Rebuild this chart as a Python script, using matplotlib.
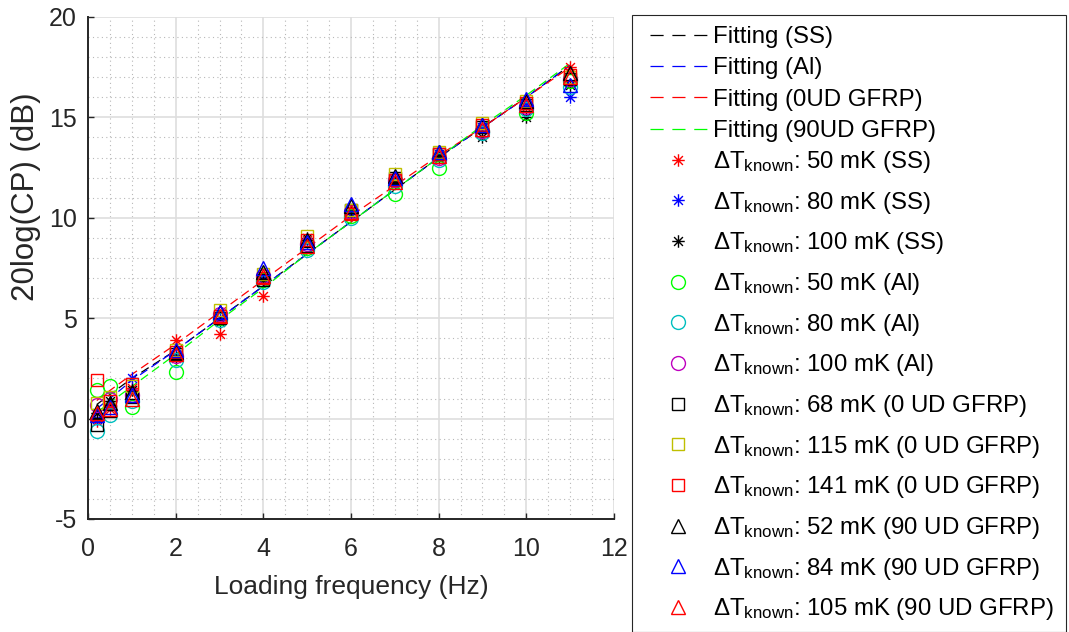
import matplotlib
matplotlib.use("Agg")
import matplotlib.pyplot as plt
from matplotlib.ticker import MultipleLocator
from matplotlib.path import Path
from matplotlib.lines import Line2D
from matplotlib.patches import Rectangle

plt.rcParams['font.family'] = ['Liberation Sans', 'DejaVu Sans']
plt.rcParams['mathtext.fontset'] = 'custom'
plt.rcParams['mathtext.rm'] = 'Liberation Sans'
plt.rcParams['mathtext.it'] = 'Liberation Sans:italic'
plt.rcParams['mathtext.bf'] = 'Liberation Sans:bold'
plt.rcParams['axes.unicode_minus'] = False

# ---------------- data ----------------
freq = [0.2, 0.5, 1, 2, 3, 4, 5, 6, 7, 8, 9, 10, 11]

fit_labels = ["Fitting (SS)", "Fitting (Al)", "Fitting (0UD GFRP)", "Fitting (90UD GFRP)"]
fit_ss   = [0.7, 1.2, 2.0, 3.4, 5.0, 6.6, 8.2, 9.8, 11.4, 13.0, 14.5, 16.0, 17.6]
fit_al   = [0.5, 1.0, 1.9, 3.4, 5.0, 6.6, 8.2, 9.8, 11.4, 13.0, 14.5, 16.0, 17.6]
fit_0ud  = [0.9, 1.4, 2.2, 3.7, 5.3, 6.9, 8.5, 10.1, 11.6, 13.1, 14.5, 16.0, 17.5]
fit_90ud = [0.3, 0.8, 1.6, 3.2, 4.9, 6.5, 8.2, 9.8, 11.4, 13.0, 14.6, 16.1, 17.7]

ss_50   = [-0.1, 0.5, 1.5, 3.9, 4.2, 6.1, 8.9, 10.1, 12.0, 13.0, 14.4, 15.5, 17.5]
ss_80   = [0.0, 0.7, 2.0, 3.1, 5.0, 7.0, 8.8, 10.2, 11.9, 13.2, 14.5, 15.7, 16.0]
ss_100  = [0.3, 0.9, 1.4, 3.0, 4.8, 6.9, 9.0, 10.4, 11.8, 13.1, 14.0, 15.0, 16.6]
al_50   = [1.4, 1.6, 0.6, 2.3, 5.0, 6.9, 8.5, 10.1, 11.2, 12.5, 14.3, 15.2, 16.8]
al_80   = [-0.6, 0.2, 0.9, 2.9, 4.9, 6.8, 8.4, 10.0, 11.6, 12.9, 14.2, 15.4, 16.5]
al_100  = [0.7, 1.0, 1.2, 3.1, 5.2, 7.1, 8.7, 10.3, 11.9, 13.0, 14.3, 15.5, 16.9]
ud0_68  = [-0.3, 0.4, 1.1, 3.2, 5.0, 6.9, 8.6, 10.4, 12.0, 13.2, 14.5, 15.6, 16.9]
ud0_115 = [0.8, 1.1, 1.6, 3.4, 5.4, 7.2, 9.1, 10.4, 12.2, 13.3, 14.7, 15.8, 17.0]
ud0_141 = [1.9, 0.9, 1.7, 3.3, 5.1, 7.0, 8.9, 10.2, 11.9, 13.2, 14.6, 15.7, 17.1]
ud90_52 = [0.4, 0.8, 1.3, 3.3, 5.3, 7.3, 8.9, 10.6, 12.1, 13.3, 14.6, 15.8, 17.2]
ud90_84 = [0.2, 0.6, 1.2, 3.4, 5.3, 7.5, 8.8, 10.7, 12.0, 13.3, 14.6, 15.9, 16.6]
ud90_105 = [0.3, 0.5, 1.0, 3.2, 5.1, 7.1, 8.6, 10.3, 11.8, 13.1, 14.4, 15.6, 17.0]

series_labels = [
    "50 mK (SS)", "80 mK (SS)", "100 mK (SS)",
    "50 mK (Al)", "80 mK (Al)", "100 mK (Al)",
    "68 mK (0 UD GFRP)", "115 mK (0 UD GFRP)", "141 mK (0 UD GFRP)",
    "52 mK (90 UD GFRP)", "84 mK (90 UD GFRP)", "105 mK (90 UD GFRP)",
]
series_values = [ss_50, ss_80, ss_100, al_50, al_80, al_100,
                 ud0_68, ud0_115, ud0_141, ud90_52, ud90_84, ud90_105]

# ---------------- styles ----------------
asterisk = Path([(-1, 0), (1, 0), (0, -1), (0, 1),
                 (-0.707, -0.707), (0.707, 0.707), (-0.707, 0.707), (0.707, -0.707)],
                [Path.MOVETO, Path.LINETO] * 4)
fit_colors = ['k', 'b', 'r', '#00ff00']
series_markers = [asterisk] * 3 + ['o'] * 3 + ['s'] * 3 + ['^'] * 3
series_colors = ['r', 'b', 'k', '#00ff00', 'c', 'm', 'k', 'y', 'r', 'k', 'b', 'r']
series_ms = [9, 9, 9, 10, 10, 10, 8, 8, 8, 10, 10, 10]

fig = plt.figure(figsize=(10.69, 6.32), dpi=100)
ax = fig.add_axes([88/1069, 1-519/632, (614-88)/1069, (519-17)/632])

fits = [fit_ss, fit_al, fit_0ud, fit_90ud]
fit_handles = []
for vals, c, lab in zip(fits, fit_colors, fit_labels):
    ax.plot(freq, vals, linestyle=(0, (7, 4)), color=c, lw=0.9, zorder=3)
    fit_handles.append(Line2D([], [], linestyle=(0, (10.5, 7)), color=c, lw=0.9, label=lab))

ser_handles = []
for vals, m, c, ms, lab in zip(series_values, series_markers, series_colors, series_ms, series_labels):
    h, = ax.plot(freq, vals, linestyle='none', marker=m, markerfacecolor='none',
                 markeredgecolor=c, ms=ms, markeredgewidth=1.0,
                 label=r'ΔT$_{\mathrm{known}}$: ' + lab, zorder=4)
    ser_handles.append(h)

ax.set_xlim(0, 12)
ax.set_ylim(-5, 20)
ax.xaxis.set_major_locator(MultipleLocator(2))
ax.xaxis.set_minor_locator(MultipleLocator(0.5))
ax.yaxis.set_major_locator(MultipleLocator(5))
ax.yaxis.set_minor_locator(MultipleLocator(1))
ax.grid(True, which='major', color='#dedede', lw=1.2, linestyle='-')
ax.grid(True, which='minor', color='#b8b8b8', lw=0.8, linestyle=(0, (1, 3)))
ax.set_axisbelow(True)

for s in ['top', 'right']:
    ax.spines[s].set_visible(False)
for s in ['left', 'bottom']:
    ax.spines[s].set_color('#262626')
    ax.spines[s].set_linewidth(1.4)

ax.tick_params(axis='x', which='major', direction='in', length=4, width=1,
               colors='#262626', labelsize=18, pad=13)
ax.tick_params(axis='y', which='major', direction='in', length=4, width=1,
               colors='#262626', labelsize=18, pad=8)
ax.tick_params(axis='both', which='minor', length=0)

ax.set_xlabel('Loading frequency (Hz)', fontsize=19, color='#262626', labelpad=10)
ax.set_ylabel('20log(CP) (dB)', fontsize=22.5, color='#262626')
ax.yaxis.set_label_coords(-0.09, (519-197)/502)

# legend: frame + two groups with different row spacing
fig.patches.append(Rectangle((632/1069, 0), (1066-632)/1069, 1-15/632,
                             transform=fig.transFigure, fill=False,
                             edgecolor='#262626', lw=0.8))
common = dict(loc='upper left', fontsize=17.3, frameon=False,
              handlelength=2.37, handletextpad=0.25, borderpad=0, borderaxespad=0)
leg1 = fig.legend(handles=fit_handles, bbox_to_anchor=(650/1069, 1-26/632),
                  labelspacing=0.39, **common)
leg2 = fig.legend(handles=ser_handles, bbox_to_anchor=(650/1069, 1-149/632),
                  labelspacing=0.61, **common)

fig.savefig('out.png', dpi=100)
